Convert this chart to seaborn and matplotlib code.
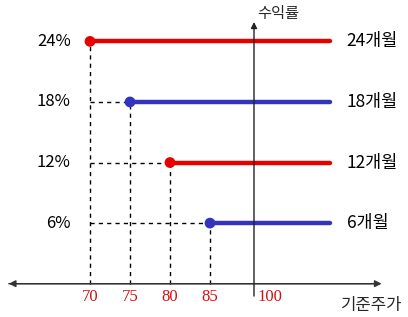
import numpy as np
import pandas as pd
import matplotlib
matplotlib.use('Agg')
import matplotlib.pyplot as plt
import seaborn as sns

# data
periods = ['24개월', '18개월', '12개월', '6개월']
rates = [24, 18, 12, 6]           # 수익률 (%)
start_price = [70, 75, 80, 85]    # 기준주가 where each line starts
end_price = 100
colors = ['#e60000', '#3333bb', '#e60000', '#3333bb']
tick_labels = ['70', '75', '80', '85']

sns.set_theme(style='white')
plt.rcParams['font.family'] = ['Noto Sans CJK KR', 'DejaVu Sans']

df = pd.DataFrame({
    'period': np.repeat(periods, 2),
    'price': [p for s in start_price for p in (s, end_price)],
    'rate': np.repeat(rates, 2),
})

fig = plt.figure(figsize=(4.08, 3.17), dpi=100)
ax = fig.add_axes([0, 0, 1, 1])

# dashed guide lines to the axes
for s, r in zip(start_price, rates):
    ax.plot([s, s], [0, r], ls=(0, (3, 3)), color='black', lw=1)
    if s > start_price[0]:
        ax.plot([start_price[0], s], [r, r], ls=(0, (3, 3)), color='black', lw=1)

pal = dict(zip(periods, colors))
sns.lineplot(data=df, x='price', y='rate', hue='period', palette=pal,
             lw=3.2, legend=False, ax=ax, sort=False)
sns.scatterplot(x=start_price, y=rates, hue=periods, palette=pal, s=60,
                edgecolor='none', legend=False, ax=ax, zorder=5)

# axes with arrows (y axis sits just left of the 100 line end)
yaxis_x = 90.5
ax.annotate('', xy=(59.5, 0), xytext=(106.5, 0),
            arrowprops=dict(arrowstyle='-|>', color='#333333', lw=1, mutation_scale=10))
ax.annotate('', xy=(106.8, 0), xytext=(59.5, 0),
            arrowprops=dict(arrowstyle='-|>', color='#333333', lw=1, mutation_scale=10))
ax.annotate('', xy=(yaxis_x, 26.2), xytext=(yaxis_x, -1.5),
            arrowprops=dict(arrowstyle='-|>', color='#222222', lw=1, mutation_scale=9))

for r, p in zip(rates, periods):
    ax.text(67.6, r, f'{r}%', ha='right', va='center', fontsize=12,
            color='black', fontweight='medium')
    ax.text(102.1, r, p, ha='left', va='center', fontsize=12.5,
            color='black', fontweight='medium')

for s, t in zip(start_price, tick_labels):
    ax.text(s, -1.3, t, ha='center', va='center', fontsize=12, color='#d01010',
            family='Liberation Serif')
ax.text(yaxis_x + 0.4, -1.3, '100', ha='left', va='center', fontsize=12,
        color='#d01010', family='Liberation Serif')

ax.text(yaxis_x + 0.4, 26.8, '수익률', ha='left', va='center', fontsize=11)
ax.text(101.4, -2.2, '기준주가', ha='left', va='center', fontsize=12)

ax.set_xlim(58.75, 109.75)
ax.set_ylim(-3.3, 28.1)
ax.axis('off')

fig.savefig('out.png', dpi=100)
